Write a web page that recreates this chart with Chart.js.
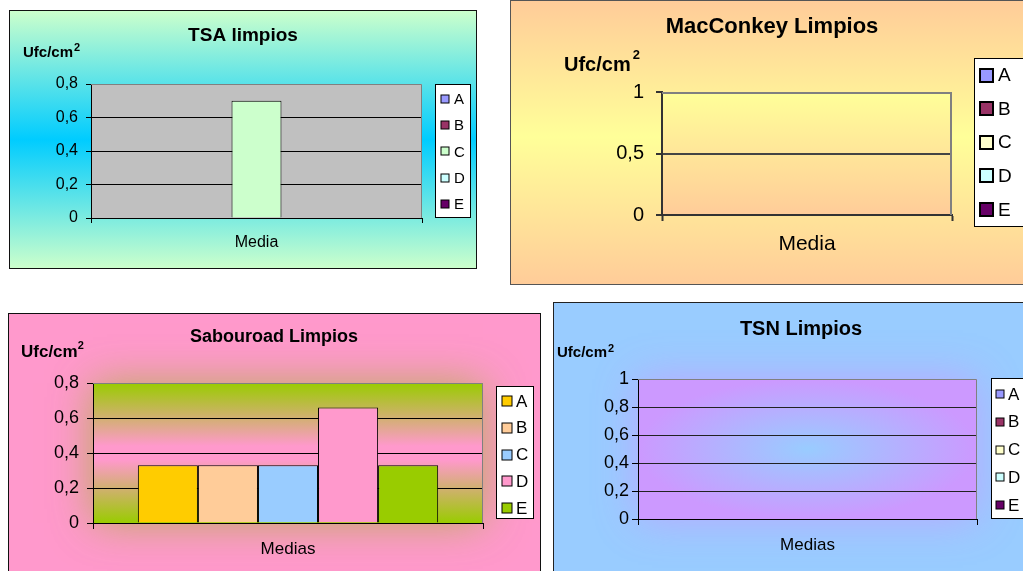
<!DOCTYPE html>
<html>
<head>
<meta charset="utf-8">
<script src="https://cdn.jsdelivr.net/npm/chart.js@4.4.1/dist/chart.umd.min.js"></script>
<style>
  html, body { margin: 0; padding: 0; background: #ffffff; width: 1023px; height: 571px; overflow: hidden; position: relative; }
  .panel { position: absolute; box-sizing: border-box; }
</style>
</head>
<body>
<script>
// Series shown in every panel
const seriesNames = ['A', 'B', 'C', 'D', 'E'];

// TSA limpios
const tsaCategory = ['Media'];
const tsaValues = [0, 0, 0.7, 0, 0];
const tsaTicks = [0, 0.2, 0.4, 0.6, 0.8];

// MacConkey Limpios
const macconkeyCategory = ['Media'];
const macconkeyValues = [0, 0, 0, 0, 0];
const macconkeyTicks = [0, 0.5, 1];

// Sabouroad Limpios
const sabouroadCategory = ['Medias'];
const sabouroadValues = [0.33, 0.33, 0.33, 0.66, 0.33];
const sabouroadTicks = [0, 0.2, 0.4, 0.6, 0.8];

// TSN Limpios
const tsnCategory = ['Medias'];
const tsnValues = [0, 0, 0, 0, 0];
const tsnTicks = [0, 0.2, 0.4, 0.6, 0.8, 1];

// Series colours per panel
const tsaColors = ['#9999ff', '#993366', '#ccffcc', '#ccffff', '#660066'];
const macconkeyColors = ['#9999ff', '#993366', '#ffffcc', '#ccffff', '#660066'];
const sabouroadColors = ['#ffcc00', '#ffcc99', '#99ccff', '#ff99cc', '#99cc00'];
const tsnColors = ['#9999ff', '#993366', '#ffffcc', '#ccffff', '#660066'];

const FONT = "'Liberation Sans', Arial, Helvetica, sans-serif";
Chart.defaults.font.family = FONT;
Chart.defaults.color = '#000';

function commaDecimal(v) { return String(v).replace('.', ','); }

// Draws the plot-area fill, frame, titles, unit label and boxed legend
function makeDecor(spec) {
  const p = spec.panel;
  return {
    id: 'panelDecor',
    beforeDraw(chart) {
      const ctx = chart.ctx, a = chart.chartArea;
      ctx.save();
      spec.paintPlot(ctx, a);
      ctx.restore();
    },
    afterDatasetsDraw(chart) {
      const ctx = chart.ctx, a = chart.chartArea;
      const off = spec.lineW / 2;
      ctx.save();
      ctx.strokeStyle = spec.frameColor;
      ctx.lineWidth = spec.lineW;
      ctx.beginPath();
      ctx.moveTo(a.left, a.top + off);
      ctx.lineTo(a.right - off, a.top + off);
      ctx.lineTo(a.right - off, a.bottom);
      ctx.stroke();
      ctx.restore();
    },
    afterDraw(chart) {
      const ctx = chart.ctx;
      ctx.save();
      ctx.translate(-p.x, -p.y);
      ctx.fillStyle = '#000';
      ctx.textBaseline = 'alphabetic';

      // title
      ctx.font = `bold ${spec.title.size}px ${FONT}`;
      ctx.textAlign = 'center';
      ctx.fillText(spec.title.text, spec.title.x, spec.title.y);

      // unit label with superscript
      const u = spec.unit;
      ctx.textAlign = 'left';
      ctx.font = `bold ${u.size}px ${FONT}`;
      ctx.fillText('Ufc/cm', u.x, u.y);
      const w = ctx.measureText('Ufc/cm').width;
      ctx.font = `bold ${u.supSize}px ${FONT}`;
      ctx.fillText('2', u.x + w + u.supGap, u.supY);

      // legend
      const L = spec.legend;
      ctx.fillStyle = '#ffffff';
      ctx.fillRect(L.x, L.y, L.w, L.h);
      ctx.strokeStyle = '#000';
      ctx.lineWidth = 1;
      ctx.strokeRect(L.x + 0.5, L.y + 0.5, L.w - 1, L.h - 1);
      ctx.font = `${L.size}px ${FONT}`;
      ctx.textBaseline = 'middle';
      const odd = L.swatchBorder % 2 ? 1 : 0;
      chart.data.datasets.forEach((ds, i) => {
        const cy = L.firstY + i * L.step;
        const s = L.swatch;
        const sy = Math.round(cy - s / 2);
        ctx.fillStyle = ds.backgroundColor;
        ctx.fillRect(L.swatchX, sy, s, s);
        ctx.strokeStyle = '#000';
        ctx.lineWidth = L.swatchBorder;
        const o = L.swatchBorder / 2;
        ctx.strokeRect(L.swatchX - o + 0.5 * odd, sy - o + 0.5 * odd, s + 2 * o - odd, s + 2 * o - odd);
        ctx.fillStyle = '#000';
        ctx.fillText(ds.label, L.textX, cy + 1);
      });
      ctx.restore();
    }
  };
}

function makeChart(spec) {
  const p = spec.panel;
  const div = document.createElement('div');
  div.className = 'panel';
  Object.assign(div.style, {
    left: p.x + 'px', top: p.y + 'px', width: p.w + 'px', height: p.h + 'px',
    background: p.background, border: `1px solid ${p.border}`
  });
  document.body.appendChild(div);

  const canvas = document.createElement('canvas');
  canvas.className = 'panel';
  canvas.width = p.w;
  canvas.height = p.h;
  Object.assign(canvas.style, { left: p.x + 'px', top: p.y + 'px', width: p.w + 'px', height: p.h + 'px' });
  document.body.appendChild(canvas);

  const a = spec.plot;
  const yw = 60, xh = 44;
  const padding = {
    left: a.l - p.x - yw,
    top: a.t - p.y,
    right: p.x + p.w - a.r,
    bottom: p.y + p.h - a.b - xh
  };
  const ticks = spec.yTicks;
  const yMax = ticks[ticks.length - 1];

  new Chart(canvas, {
    type: 'bar',
    data: {
      labels: spec.categories,
      datasets: seriesNames.map((name, i) => ({
        label: name,
        data: [spec.values[i]],
        backgroundColor: spec.colors[i],
        borderColor: '#000',
        borderWidth: c => (c.raw ? 1 : 0),
        borderSkipped: 'start',
        barPercentage: 1,
        categoryPercentage: spec.groupWidth
      }))
    },
    options: {
      responsive: false,
      devicePixelRatio: 1,
      animation: false,
      events: [],
      layout: { padding },
      plugins: { legend: { display: false }, title: { display: false }, tooltip: { enabled: false } },
      scales: {
        x: {
          offset: true,
          grid: {
            offset: true, drawOnChartArea: false, drawTicks: true,
            tickLength: spec.tickLen, tickColor: spec.axisColor, tickWidth: spec.lineW
          },
          border: { display: true, color: spec.axisColor, width: spec.lineW },
          ticks: { font: { size: spec.catFont }, color: '#000', padding: spec.catPad, maxRotation: 0 },
          afterFit: s => { s.height = xh; }
        },
        y: {
          min: ticks[0],
          max: yMax,
          afterBuildTicks: s => { s.ticks = ticks.map(v => ({ value: v })); },
          grid: {
            color: c => (c.tick && c.tick.value === yMax ? 'rgba(0,0,0,0)' : spec.gridColor),
            lineWidth: spec.lineW,
            tickLength: spec.tickLen, tickColor: spec.axisColor, tickWidth: spec.lineW
          },
          border: { display: true, color: spec.axisColor, width: spec.lineW },
          ticks: { font: { size: spec.tickFont }, color: '#000', padding: spec.tickPad, autoSkip: false, callback: v => commaDecimal(v) },
          afterFit: s => { s.width = yw; }
        }
      }
    },
    plugins: [makeDecor(spec)]
  });
}

// TSA limpios
makeChart({
  panel: { x: 9, y: 10, w: 468, h: 259, border: '#111',
    background: 'linear-gradient(to bottom, #ccffcc 0%, #00ccff 50%, #ccffcc 100%)' },
  plot: { l: 91, t: 84, r: 422, b: 218 },
  categories: tsaCategory, values: tsaValues, colors: tsaColors, yTicks: tsaTicks,
  groupWidth: 0.755,
  paintPlot: (ctx, a) => { ctx.fillStyle = '#c0c0c0'; ctx.fillRect(a.left, a.top, a.width, a.height); },
  lineW: 1, axisColor: '#000', gridColor: '#000', frameColor: '#808080',
  tickLen: 5, tickFont: 16, tickPad: 8, catFont: 16, catPad: 10,
  title: { text: 'TSA limpios', size: 19, x: 243, y: 41 },
  unit: { x: 23, y: 57, size: 15, supSize: 11, supY: 51, supGap: 1 },
  legend: { x: 435, y: 84, w: 36, h: 134, size: 15, swatch: 8, swatchBorder: 1, swatchX: 441, textX: 454, firstY: 99, step: 26.2 }
});

// MacConkey Limpios
makeChart({
  panel: { x: 510, y: 0, w: 520, h: 285, border: '#555',
    background: 'linear-gradient(to bottom, #ffcc99 0%, #ffff99 48%, #ffcc99 100%)' },
  plot: { l: 662, t: 92, r: 952, b: 215 },
  categories: macconkeyCategory, values: macconkeyValues, colors: macconkeyColors, yTicks: macconkeyTicks,
  groupWidth: 0.75,
  paintPlot: (ctx, a) => {
    const g = ctx.createLinearGradient(0, a.top, 0, a.bottom);
    g.addColorStop(0, '#ffff99');
    g.addColorStop(1, '#ffcc99');
    ctx.fillStyle = g;
    ctx.fillRect(a.left, a.top, a.width, a.height);
  },
  lineW: 2, axisColor: '#333', gridColor: '#444', frameColor: '#808080',
  tickLen: 6, tickFont: 20, tickPad: 12, catFont: 21, catPad: 11,
  title: { text: 'MacConkey Limpios', size: 22, x: 772, y: 33 },
  unit: { x: 564, y: 71, size: 20, supSize: 13, supY: 59, supGap: 2 },
  legend: { x: 974, y: 58, w: 60, h: 169, size: 19, swatch: 11, swatchBorder: 2, swatchX: 981, textX: 998, firstY: 75, step: 33.6 }
});

// Sabouroad Limpios
makeChart({
  panel: { x: 8, y: 313, w: 533, h: 262, border: '#111', background: '#ff99cc' },
  plot: { l: 93, t: 383, r: 483, b: 523 },
  categories: sabouroadCategory, values: sabouroadValues, colors: sabouroadColors, yTicks: sabouroadTicks,
  groupWidth: 0.77,
  paintPlot: (ctx, a) => {
    ctx.save();
    ctx.shadowColor = 'rgba(175,175,70,0.85)';
    ctx.shadowBlur = 40;
    ctx.fillStyle = '#c8b070';
    ctx.fillRect(a.left, a.top, a.width, a.height);
    ctx.restore();
    const g = ctx.createLinearGradient(0, a.top, 0, a.bottom);
    g.addColorStop(0, '#99cc00');
    g.addColorStop(0.45, '#ff99cc');
    g.addColorStop(0.55, '#ff99cc');
    g.addColorStop(1, '#99cc00');
    ctx.fillStyle = g;
    ctx.fillRect(a.left, a.top, a.width, a.height);
  },
  lineW: 1, axisColor: '#000', gridColor: '#000', frameColor: '#808080',
  tickLen: 6, tickFont: 18, tickPad: 8, catFont: 17, catPad: 10,
  title: { text: 'Sabouroad Limpios', size: 18, x: 274, y: 342 },
  unit: { x: 21, y: 357, size: 17, supSize: 11, supY: 349, supGap: 0 },
  legend: { x: 496, y: 386, w: 38, h: 133, size: 17, swatch: 10, swatchBorder: 1, swatchX: 502, textX: 516, firstY: 401, step: 26.8 }
});

// TSN Limpios
makeChart({
  panel: { x: 553, y: 302, w: 475, h: 275, border: '#222', background: '#99ccff' },
  plot: { l: 638, t: 379, r: 977, b: 519 },
  categories: tsnCategory, values: tsnValues, colors: tsnColors, yTicks: tsnTicks,
  groupWidth: 0.75,
  paintPlot: (ctx, a) => {
    ctx.save();
    ctx.shadowColor = 'rgba(195,160,255,0.85)';
    ctx.shadowBlur = 40;
    ctx.fillStyle = '#bb99ff';
    ctx.fillRect(a.left, a.top, a.width, a.height);
    ctx.restore();
    const cx = (a.left + a.right) / 2, cy = (a.top + a.bottom) / 2;
    const sx = a.width / a.height;
    ctx.save();
    ctx.translate(cx, cy);
    ctx.scale(sx, 1);
    const g = ctx.createRadialGradient(0, 0, 0, 0, 0, a.height / 2);
    g.addColorStop(0, '#99ccff');
    g.addColorStop(1, '#cc99ff');
    ctx.fillStyle = g;
    ctx.fillRect(-a.width / 2 / sx, -a.height / 2, a.width / sx, a.height);
    ctx.restore();
  },
  lineW: 1, axisColor: '#000', gridColor: '#222', frameColor: '#808080',
  tickLen: 6, tickFont: 18, tickPad: 3, catFont: 17, catPad: 10,
  title: { text: 'TSN Limpios', size: 20, x: 801, y: 335 },
  unit: { x: 557, y: 357, size: 15, supSize: 11, supY: 352, supGap: 1 },
  legend: { x: 991, y: 378, w: 40, h: 141, size: 17, swatch: 8, swatchBorder: 1, swatchX: 996, textX: 1008, firstY: 394, step: 27.8 }
});
</script>
</body>
</html>
